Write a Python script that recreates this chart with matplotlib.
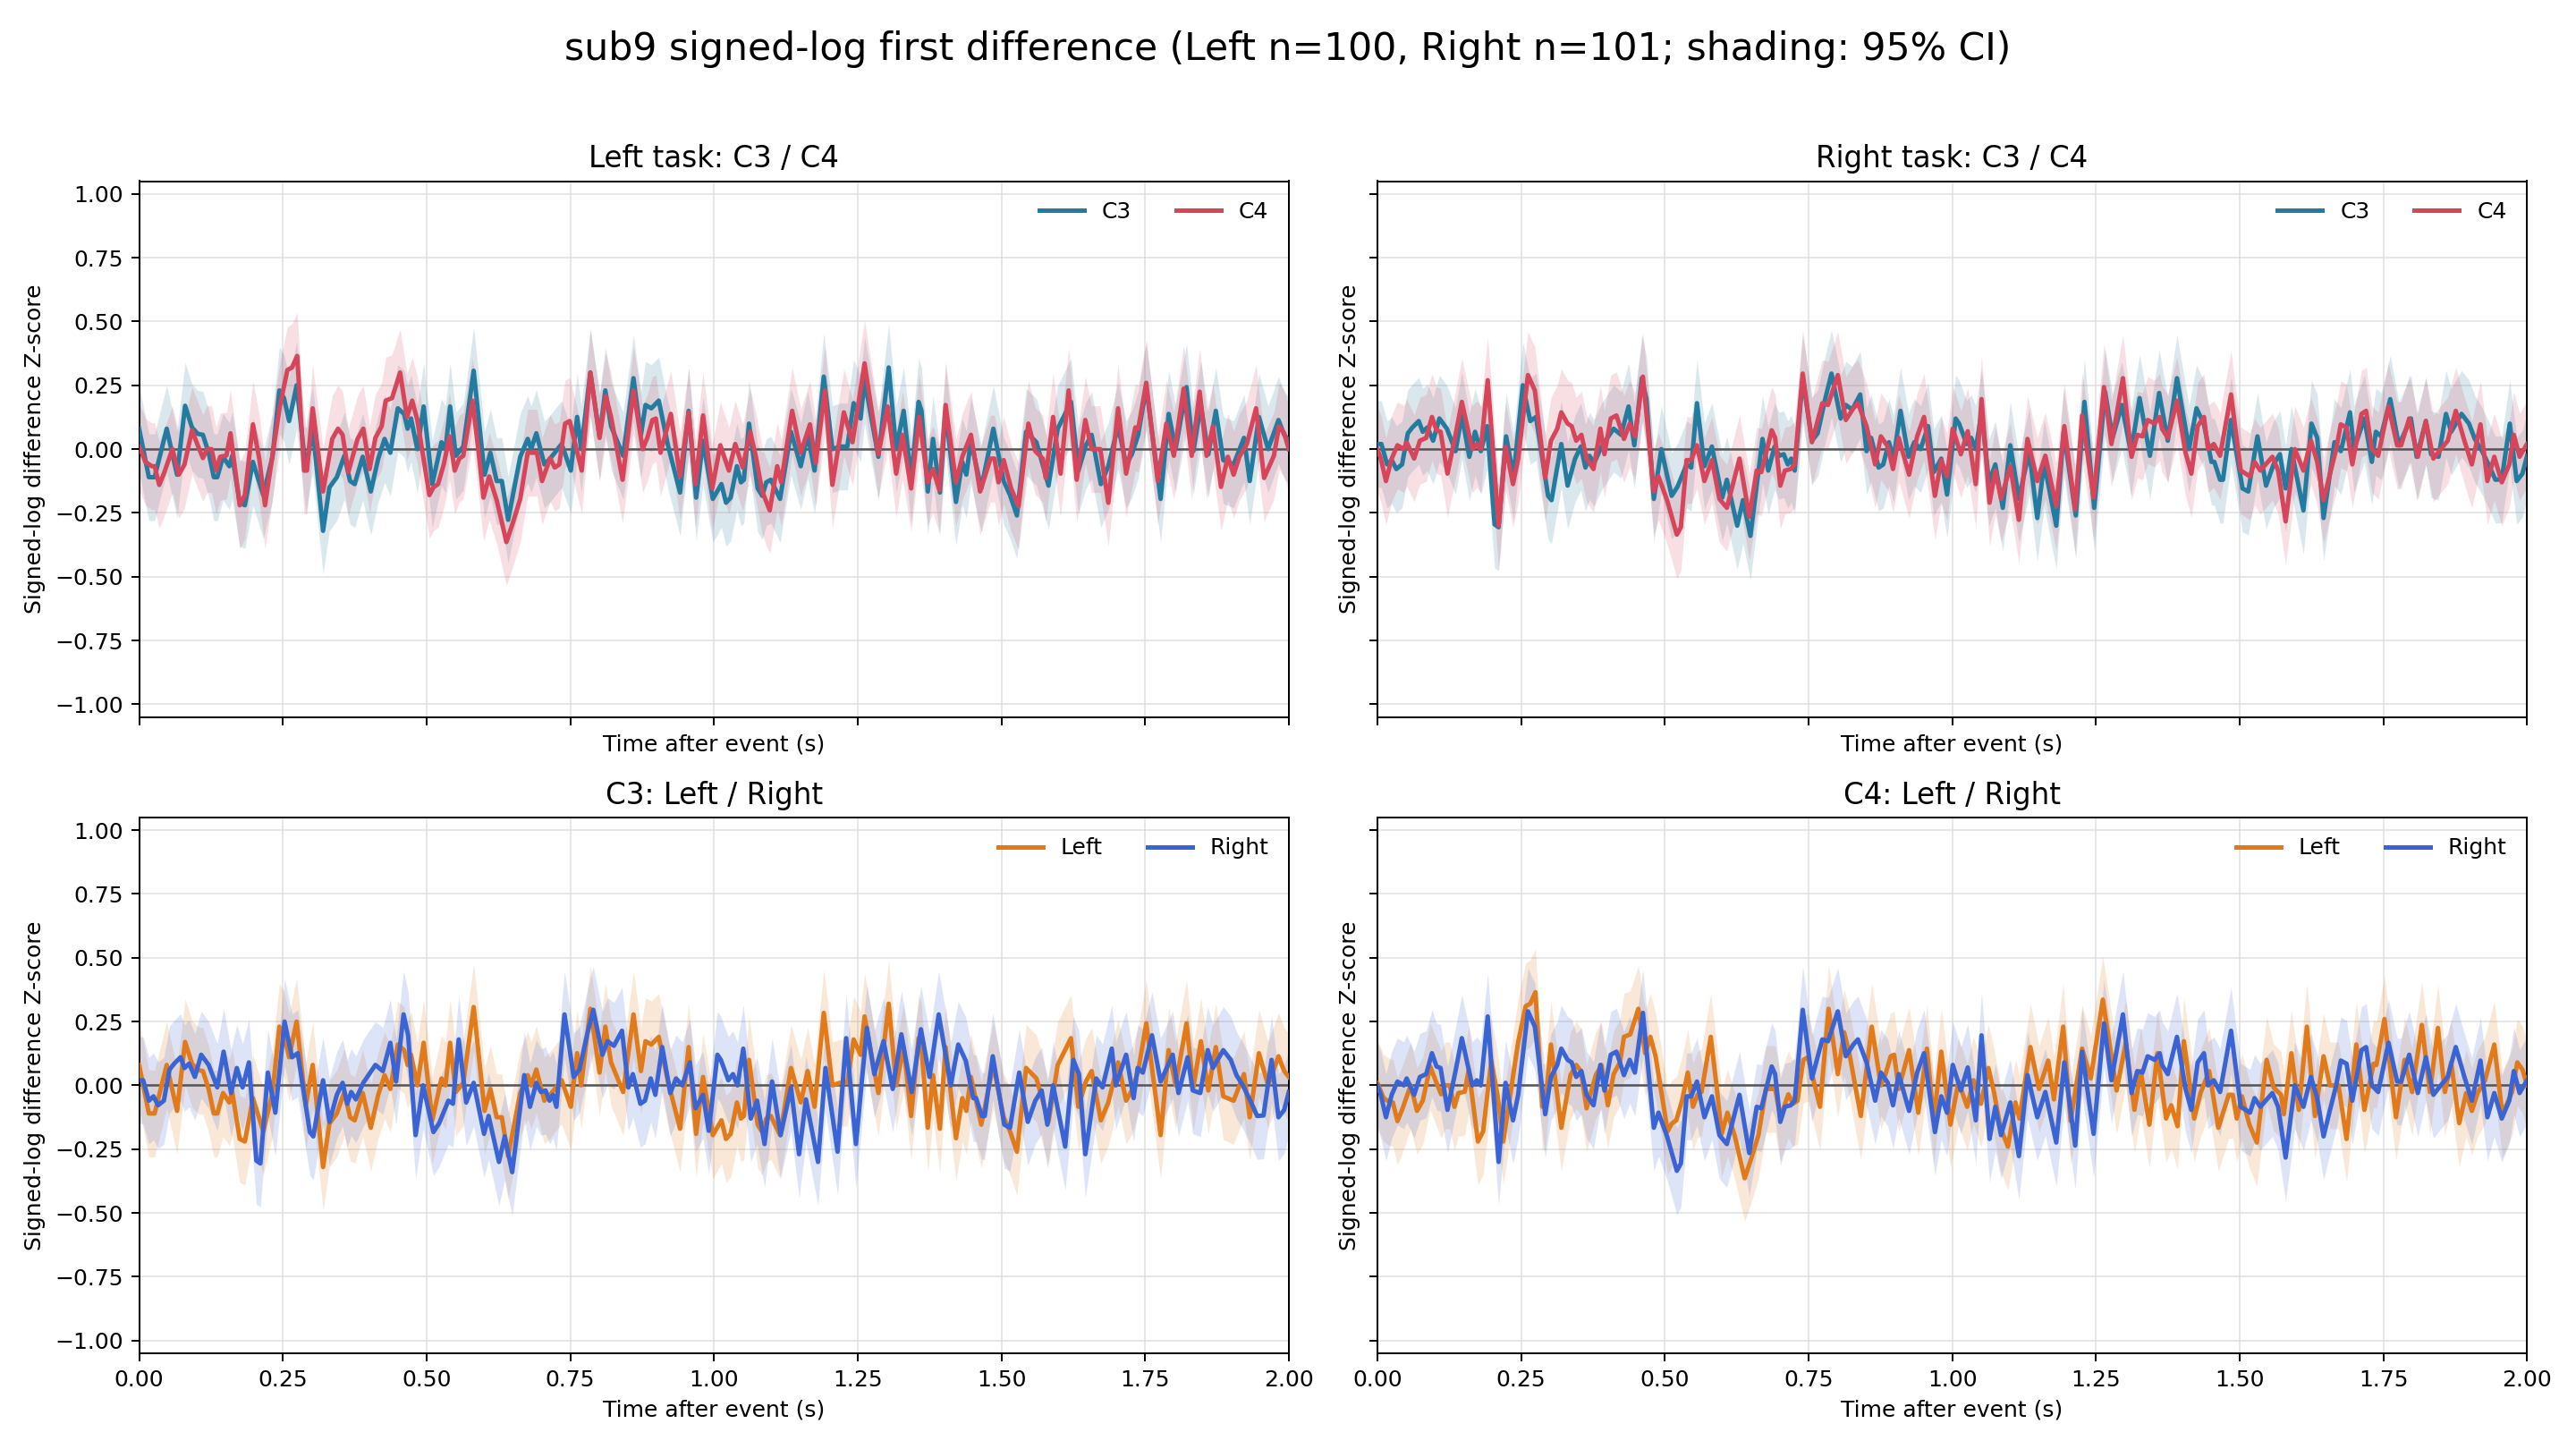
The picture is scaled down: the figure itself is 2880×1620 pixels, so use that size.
import numpy as np
import matplotlib
matplotlib.use("Agg")
import matplotlib.pyplot as plt

# --- data (time in s, z-score) ---
left_c3_t = [0.000, 0.017, 0.027, 0.048, 0.066, 0.080, 0.092, 0.102, 0.111, 0.121, 0.130, 0.136,
             0.146, 0.157, 0.162, 0.175, 0.184, 0.198, 0.216, 0.232, 0.244, 0.252, 0.261, 0.274,
             0.290, 0.302, 0.320, 0.331, 0.344, 0.357, 0.367, 0.375, 0.389, 0.403, 0.416, 0.427,
             0.437, 0.450, 0.461, 0.467, 0.473, 0.484, 0.495, 0.510, 0.526, 0.533, 0.541, 0.551,
             0.564, 0.582, 0.601, 0.611, 0.622, 0.631, 0.642, 0.663, 0.676, 0.682, 0.691, 0.705,
             0.715, 0.735, 0.751, 0.762, 0.769, 0.785, 0.801, 0.811, 0.821, 0.842, 0.860, 0.873,
             0.881, 0.891, 0.904, 0.920, 0.941, 0.956, 0.969, 0.981, 0.998, 1.013, 1.021, 1.029,
             1.040, 1.047, 1.052, 1.061, 1.076, 1.084, 1.091, 1.099, 1.115, 1.134, 1.151, 1.163,
             1.175, 1.191, 1.206, 1.219, 1.232, 1.243, 1.255, 1.262, 1.286, 1.304, 1.317, 1.330,
             1.343, 1.356, 1.361, 1.372, 1.381, 1.393, 1.403, 1.421, 1.432, 1.439, 1.447, 1.465,
             1.486, 1.504, 1.515, 1.527, 1.543, 1.561, 1.582, 1.598, 1.621, 1.634, 1.647, 1.657,
             1.673, 1.686, 1.703, 1.717, 1.727, 1.738, 1.752, 1.777, 1.791, 1.803, 1.822, 1.834,
             1.847, 1.860, 1.873, 1.886, 1.904, 1.922, 1.932, 1.948, 1.964, 1.982, 1.992, 2.000]
left_c3_v = [0.08, -0.11, -0.11, 0.08, -0.10, 0.17, 0.085, 0.06, 0.056, -0.015, -0.11, -0.11,
             -0.03, -0.067, -0.026, -0.21, -0.22, -0.05, -0.18, -0.03, 0.23, 0.20, 0.11, 0.25,
             -0.08, 0.08, -0.32, -0.15, -0.11, -0.026, -0.125, -0.137, -0.03, -0.166, -0.037, 0.04,
             -0.014, 0.16, 0.138, 0.08, 0.12, 0.0, 0.167, -0.137, 0.027, 0.0, 0.167, -0.026,
             0.01, 0.307, -0.10, -0.014, -0.125, -0.125, -0.277, -0.03, 0.04, 0.0, 0.062, -0.06,
             -0.037, 0.02, -0.084, 0.126, 0.0, 0.30, 0.05, 0.23, 0.09, -0.026, 0.278, 0.056,
             0.173, 0.16, 0.19, 0.015, -0.17, 0.15, -0.19, 0.033, -0.195, -0.137, -0.21, -0.19,
             -0.067, -0.13, -0.12, 0.10, -0.154, -0.183, -0.13, -0.12, -0.195, 0.068, -0.067, 0.056,
             -0.084, 0.284, 0.0, 0.01, 0.01, 0.18, 0.12, 0.27, -0.03, 0.32, 0.0, 0.15,
             -0.12, 0.185, 0.15, -0.166, 0.04, -0.17, 0.15, -0.207, -0.05, -0.10, 0.033, -0.154,
             0.08, -0.125, -0.18, -0.26, 0.068, 0.027, -0.143, 0.08, 0.185, -0.084, 0.015, 0.056,
             -0.137, -0.067, 0.09, -0.06, -0.02, 0.056, 0.243, -0.195, 0.138, 0.0, 0.243, -0.008,
             0.173, -0.02, 0.15, -0.043, -0.06, 0.044, -0.125, 0.126, 0.0, 0.114, 0.056, 0.033]

left_c4_t = [0.000, 0.011, 0.022, 0.027, 0.035, 0.043, 0.058, 0.069, 0.079, 0.092, 0.102, 0.111,
             0.118, 0.126, 0.134, 0.141, 0.152, 0.159, 0.175, 0.184, 0.198, 0.209, 0.219, 0.232,
             0.245, 0.258, 0.266, 0.275, 0.287, 0.292, 0.302, 0.320, 0.336, 0.346, 0.354, 0.364,
             0.380, 0.390, 0.401, 0.411, 0.422, 0.429, 0.440, 0.454, 0.466, 0.475, 0.484, 0.494,
             0.505, 0.512, 0.520, 0.530, 0.540, 0.549, 0.557, 0.564, 0.580, 0.590, 0.599, 0.609,
             0.622, 0.639, 0.650, 0.663, 0.676, 0.692, 0.701, 0.715, 0.723, 0.731, 0.741, 0.749,
             0.770, 0.785, 0.801, 0.812, 0.821, 0.841, 0.860, 0.876, 0.884, 0.893, 0.899, 0.907,
             0.925, 0.941, 0.956, 0.968, 0.981, 0.997, 1.011, 1.026, 1.037, 1.050, 1.063, 1.073,
             1.084, 1.097, 1.110, 1.117, 1.136, 1.151, 1.167, 1.177, 1.193, 1.206, 1.226, 1.241,
             1.262, 1.286, 1.302, 1.317, 1.328, 1.343, 1.357, 1.372, 1.381, 1.392, 1.403, 1.421,
             1.432, 1.447, 1.463, 1.481, 1.488, 1.495, 1.504, 1.517, 1.530, 1.547, 1.559, 1.572,
             1.577, 1.590, 1.603, 1.617, 1.631, 1.646, 1.657, 1.672, 1.686, 1.703, 1.717, 1.733,
             1.738, 1.752, 1.772, 1.787, 1.800, 1.817, 1.831, 1.845, 1.857, 1.868, 1.882, 1.894,
             1.904, 1.914, 1.927, 1.943, 1.957, 1.974, 1.983, 1.992, 2.000]
left_c4_v = [0.01, -0.05, -0.067, -0.067, -0.14, -0.096, 0.0, -0.10, -0.06, 0.074, 0.015, -0.035,
             0.0, 0.0, -0.084, -0.03, -0.025, 0.062, -0.22, -0.18, 0.097, -0.037, -0.22, -0.026,
             0.17, 0.31, 0.32, 0.365, -0.084, -0.084, 0.16, -0.166, 0.04, 0.08, 0.056, -0.09,
             0.04, 0.08, -0.078, 0.044, 0.09, 0.19, 0.20, 0.30, 0.126, 0.19, 0.114, -0.026,
             -0.18, -0.15, -0.137, -0.06, 0.05, -0.084, -0.037, -0.026, 0.19, 0.0, -0.19, -0.107,
             -0.20, -0.364, -0.29, -0.195, -0.014, -0.014, -0.125, -0.035, -0.072, -0.06, 0.10, 0.11,
             -0.084, 0.30, 0.044, 0.208, 0.126, -0.12, 0.23, 0.0, 0.044, 0.114, 0.12, -0.014,
             0.138, -0.107, 0.144, -0.137, 0.132, -0.154, 0.015, -0.084, 0.02, -0.072, 0.068, -0.03,
             -0.166, -0.24, -0.067, -0.13, 0.15, -0.014, 0.097, -0.055, 0.23, -0.14, 0.144, 0.027,
             0.336, -0.02, 0.167, -0.096, 0.056, -0.154, 0.126, -0.13, -0.078, -0.16, 0.173, -0.13,
             -0.03, 0.056, -0.166, -0.037, -0.037, -0.13, -0.043, -0.154, -0.224, 0.10, -0.008, -0.037,
             -0.113, 0.126, -0.096, 0.23, -0.12, 0.114, 0.0, 0.0, -0.21, 0.16, -0.096, 0.085,
             0.08, 0.26, -0.125, 0.10, -0.026, 0.237, -0.026, 0.225, -0.026, 0.09, -0.148, -0.03,
             -0.10, -0.03, 0.02, 0.16, -0.113, -0.026, 0.09, 0.062, 0.0]

right_c3_t = [0.000, 0.007, 0.017, 0.025, 0.033, 0.043, 0.053, 0.061, 0.072, 0.079, 0.087, 0.097,
              0.108, 0.121, 0.136, 0.147, 0.160, 0.170, 0.180, 0.191, 0.204, 0.211, 0.224, 0.237,
              0.253, 0.266, 0.276, 0.297, 0.303, 0.320, 0.331, 0.344, 0.354, 0.362, 0.369, 0.377,
              0.390, 0.411, 0.424, 0.437, 0.447, 0.460, 0.468, 0.481, 0.494, 0.512, 0.522, 0.538,
              0.546, 0.556, 0.569, 0.582, 0.600, 0.608, 0.626, 0.636, 0.649, 0.670, 0.680, 0.691,
              0.699, 0.707, 0.714, 0.720, 0.726, 0.740, 0.756, 0.766, 0.779, 0.790, 0.806, 0.815,
              0.826, 0.840, 0.851, 0.859, 0.872, 0.880, 0.890, 0.898, 0.910, 0.924, 0.934, 0.945,
              0.958, 0.968, 0.981, 0.991, 1.006, 1.012, 1.025, 1.033, 1.041, 1.051, 1.064, 1.075,
              1.088, 1.101, 1.116, 1.134, 1.148, 1.160, 1.181, 1.194, 1.215, 1.230, 1.247, 1.266,
              1.279, 1.295, 1.311, 1.326, 1.344, 1.360, 1.375, 1.391, 1.412, 1.425, 1.438, 1.451,
              1.456, 1.466, 1.471, 1.485, 1.505, 1.515, 1.531, 1.546, 1.559, 1.570, 1.580, 1.590,
              1.611, 1.625, 1.635, 1.646, 1.665, 1.676, 1.692, 1.699, 1.717, 1.730, 1.737, 1.746,
              1.762, 1.777, 1.798, 1.808, 1.824, 1.833, 1.846, 1.859, 1.868, 1.886, 1.899, 1.909,
              1.920, 1.933, 1.945, 1.956, 1.970, 1.982, 1.992, 2.000]
right_c3_v = [0.02, 0.02, -0.06, -0.043, -0.078, -0.06, 0.062, 0.085, 0.11, 0.068, 0.085, 0.033,
              0.12, 0.08, -0.008, 0.132, -0.03, 0.068, -0.008, 0.09, -0.295, -0.306, 0.05, -0.107,
              0.25, 0.11, 0.126, -0.183, -0.20, 0.02, -0.143, -0.037, 0.01, -0.072, -0.026, -0.055,
              0.01, 0.08, 0.056, 0.167, 0.015, 0.278, 0.196, -0.195, 0.0, -0.183, -0.148, -0.06,
              -0.072, 0.18, -0.067, 0.01, -0.19, -0.12, -0.30, -0.20, -0.34, 0.04, -0.084, 0.01,
              -0.026, -0.02, -0.06, -0.037, -0.084, 0.278, 0.033, 0.062, 0.196, 0.296, 0.12, 0.173,
              0.155, 0.214, -0.008, 0.044, -0.072, -0.06, 0.027, -0.037, 0.15, -0.03, 0.027, 0.0,
              0.09, -0.09, -0.037, -0.178, 0.12, 0.10, 0.02, 0.044, 0.0, 0.144, -0.13, -0.06,
              -0.23, 0.015, -0.195, -0.008, -0.27, -0.055, -0.30, 0.068, -0.26, 0.185, -0.23, 0.225,
              0.044, 0.173, -0.014, 0.20, -0.026, 0.22, 0.033, 0.278, 0.0, 0.16, 0.097, -0.05,
              -0.05, -0.12, -0.12, 0.114, -0.154, -0.166, 0.05, -0.143, -0.06, -0.02, -0.154, 0.0,
              -0.24, 0.10, 0.044, -0.27, 0.027, -0.008, 0.144, 0.0, 0.12, -0.05, 0.068, 0.05,
              0.196, 0.015, 0.12, -0.03, 0.11, -0.02, -0.03, 0.138, 0.068, 0.138, 0.10, 0.04,
              0.0, -0.06, -0.12, -0.118, 0.10, -0.125, -0.096, -0.026]

right_c4_t = [0.000, 0.006, 0.015, 0.025, 0.035, 0.046, 0.051, 0.064, 0.074, 0.085, 0.095, 0.103,
              0.110, 0.122, 0.136, 0.147, 0.165, 0.173, 0.180, 0.192, 0.211, 0.223, 0.236, 0.245,
              0.262, 0.274, 0.292, 0.302, 0.313, 0.320, 0.331, 0.338, 0.346, 0.355, 0.364, 0.376,
              0.388, 0.395, 0.406, 0.416, 0.429, 0.439, 0.448, 0.462, 0.481, 0.489, 0.504, 0.521,
              0.528, 0.538, 0.546, 0.556, 0.569, 0.582, 0.595, 0.608, 0.630, 0.647, 0.660, 0.668,
              0.686, 0.692, 0.701, 0.709, 0.719, 0.726, 0.740, 0.756, 0.774, 0.784, 0.801, 0.815,
              0.828, 0.836, 0.851, 0.866, 0.876, 0.888, 0.897, 0.907, 0.925, 0.939, 0.951, 0.970,
              0.981, 0.991, 1.001, 1.015, 1.027, 1.041, 1.051, 1.065, 1.075, 1.085, 1.101, 1.116,
              1.131, 1.148, 1.162, 1.181, 1.195, 1.214, 1.226, 1.246, 1.264, 1.277, 1.297, 1.312,
              1.322, 1.331, 1.340, 1.352, 1.361, 1.365, 1.375, 1.391, 1.406, 1.416, 1.427, 1.438,
              1.445, 1.455, 1.466, 1.485, 1.502, 1.518, 1.526, 1.536, 1.557, 1.567, 1.580, 1.596,
              1.611, 1.624, 1.635, 1.646, 1.656, 1.668, 1.676, 1.686, 1.696, 1.712, 1.720, 1.730,
              1.741, 1.759, 1.774, 1.781, 1.795, 1.810, 1.824, 1.837, 1.850, 1.862, 1.876, 1.891,
              1.904, 1.919, 1.931, 1.943, 1.956, 1.969, 1.977, 1.987, 2.000]
right_c4_v = [0.0, -0.037, -0.125, -0.037, 0.015, 0.0, 0.027, -0.037, 0.033, 0.044, 0.126, 0.074,
              0.068, -0.096, 0.056, 0.185, 0.0, 0.02, 0.0, 0.27, -0.30, 0.01, -0.137, -0.037,
              0.29, 0.23, -0.113, 0.033, 0.08, 0.144, 0.10, 0.09, 0.033, 0.056, -0.037, -0.078,
              0.08, -0.02, 0.12, 0.132, 0.04, 0.10, 0.05, 0.284, -0.166, -0.107, -0.20, -0.335,
              -0.306, -0.043, -0.043, 0.015, -0.125, -0.043, -0.195, -0.23, -0.037, -0.265, -0.084, -0.09,
              0.074, 0.044, -0.143, -0.084, -0.078, -0.06, 0.296, 0.027, 0.18, 0.173, 0.29, 0.114,
              0.16, 0.18, 0.09, -0.06, 0.05, 0.01, -0.078, 0.044, -0.10, 0.05, 0.126, -0.183,
              -0.043, -0.107, 0.08, -0.02, 0.07, -0.137, 0.196, -0.21, -0.084, -0.195, -0.067, -0.277,
              0.04, -0.125, -0.026, -0.224, 0.09, -0.236, 0.132, -0.19, 0.243, 0.02, 0.278, -0.03,
              0.056, 0.05, 0.114, 0.10, 0.126, 0.08, 0.044, 0.19, -0.014, -0.096, 0.09, 0.126,
              0.0, 0.02, -0.026, 0.214, -0.084, -0.107, -0.05, -0.084, -0.03, -0.084, -0.283, 0.0,
              -0.084, 0.033, -0.05, -0.20, -0.107, 0.0, 0.097, 0.085, -0.06, 0.138, 0.15, 0.0,
              -0.026, 0.167, 0.015, 0.015, 0.12, -0.03, 0.11, -0.037, 0.0, 0.033, 0.15, 0.033,
              -0.06, 0.097, -0.125, -0.03, -0.13, -0.06, 0.056, -0.03, 0.02]

# 95% CI half-widths (approx, per series)
ci_left_c3 = 0.17
ci_left_c4 = 0.17
ci_right_c3 = 0.17
ci_right_c4 = 0.17

n_left = 100
n_right = 101

x_ticks = [0.0, 0.25, 0.5, 0.75, 1.0, 1.25, 1.5, 1.75, 2.0]
y_ticks = [-1.0, -0.75, -0.5, -0.25, 0.0, 0.25, 0.5, 0.75, 1.0]

COL_C3 = "#247BA0"
COL_C4 = "#D64559"
COL_LEFT = "#E07A1B"
COL_RIGHT = "#3A64D3"

plt.rcParams.update({
    "font.family": "DejaVu Sans",
    "font.size": 10,
})

fig, axes = plt.subplots(2, 2, figsize=(16, 9), dpi=180, sharex=True, sharey=True)
fig.subplots_adjust(left=0.054, right=0.981, top=0.875, bottom=0.066, wspace=0.077, hspace=0.187)


def draw(ax, t, v, ci, color, label):
    t = np.asarray(t)
    v = np.asarray(v)
    ax.fill_between(t, v - ci, v + ci, color=color, alpha=0.17, linewidth=0, zorder=1)
    ax.plot(t, v, color=color, lw=2.0, label=label, zorder=3, solid_joinstyle="round")


panels = [
    (axes[0, 0], "Left task: C3 / C4",
     [(left_c3_t, left_c3_v, ci_left_c3, COL_C3, "C3"),
      (left_c4_t, left_c4_v, ci_left_c4, COL_C4, "C4")]),
    (axes[0, 1], "Right task: C3 / C4",
     [(right_c3_t, right_c3_v, ci_right_c3, COL_C3, "C3"),
      (right_c4_t, right_c4_v, ci_right_c4, COL_C4, "C4")]),
    (axes[1, 0], "C3: Left / Right",
     [(left_c3_t, left_c3_v, ci_left_c3, COL_LEFT, "Left"),
      (right_c3_t, right_c3_v, ci_right_c3, COL_RIGHT, "Right")]),
    (axes[1, 1], "C4: Left / Right",
     [(left_c4_t, left_c4_v, ci_left_c4, COL_LEFT, "Left"),
      (right_c4_t, right_c4_v, ci_right_c4, COL_RIGHT, "Right")]),
]

for ax, title, series in panels:
    for t, v, ci, col, lab in series:
        draw(ax, t, v, ci, col, lab)
    ax.axhline(0, color="#555555", lw=1.0, zorder=2)
    ax.set_title(title, fontsize=13)
    ax.set_xlim(0, 2.0)
    ax.set_ylim(-1.05, 1.05)
    ax.set_xticks(x_ticks)
    ax.set_yticks(y_ticks)
    ax.grid(True, color="#dddddd", lw=0.8, alpha=0.7)
    ax.set_axisbelow(True)
    ax.set_xlabel("Time after event (s)")
    ax.set_ylabel("Signed-log difference Z-score")
    ax.legend(loc="upper right", ncol=2, frameon=False, fontsize=10)

fig.suptitle(f"sub9 signed-log first difference (Left n={n_left}, Right n={n_right}; shading: 95% CI)",
             fontsize=17, y=0.979)

fig.savefig("out.png", dpi=180)
